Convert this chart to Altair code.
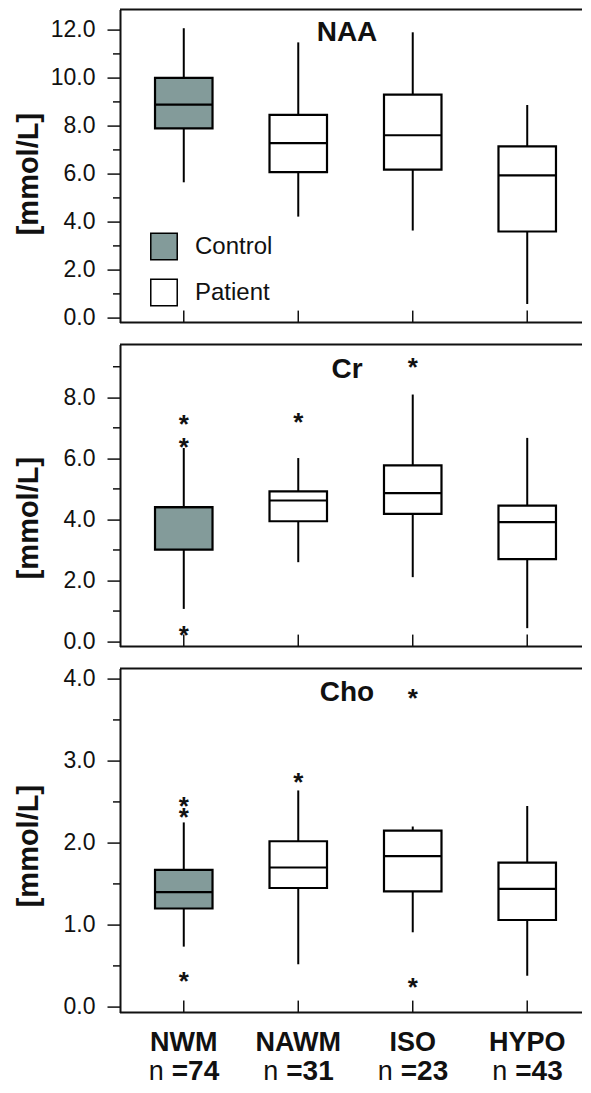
import altair as alt
import pandas as pd

categories = ["NWM", "NAWM", "ISO", "HYPO"]
groups = ["Control", "Patient", "Patient", "Patient"]
n_counts = ["=74", "=31", "=23", "=43"]
panel_titles = ["NAA", "Cr", "Cho"]
legend_labels = ["Control", "Patient"]
fill_colors = ["#839b9a", "#ffffff"]

# NAA
naa_low = [5.65, 4.22, 3.64, 0.58]
naa_q1 = [7.90, 6.07, 6.18, 3.60]
naa_med = [8.89, 7.28, 7.61, 5.94]
naa_q3 = [10.00, 8.46, 9.30, 7.15]
naa_high = [12.07, 11.48, 11.90, 8.87]
naa_out_cat = []
naa_out_val = []
naa_major = [0, 2, 4, 6, 8, 10, 12]
naa_minor = [1, 3, 5, 7, 9, 11]

# Cr
cr_low = [1.07, 2.60, 2.11, 0.44]
cr_q1 = [3.01, 3.94, 4.18, 2.70]
cr_med = [4.40, 4.62, 4.86, 3.91]
cr_q3 = [4.40, 4.92, 5.77, 4.45]
cr_high = [6.34, 6.01, 8.09, 6.67]
cr_out_cat = ["NWM", "NWM", "NWM", "NAWM", "ISO"]
cr_out_val = [7.24, 6.50, 0.36, 7.32, 9.12]
cr_major = [0, 2, 4, 6, 8]
cr_minor = [1, 3, 5, 7, 9]

# Cho
cho_low = [0.735, 0.52, 0.91, 0.38]
cho_q1 = [1.20, 1.45, 1.41, 1.06]
cho_med = [1.40, 1.70, 1.84, 1.44]
cho_q3 = [1.67, 2.02, 2.15, 1.76]
cho_high = [2.25, 2.64, 2.20, 2.45]
cho_out_cat = ["NWM", "NWM", "NWM", "NAWM", "ISO", "ISO"]
cho_out_val = [2.50, 2.37, 0.37, 2.79, 3.82, 0.29]
cho_major = [0, 1, 2, 3, 4]
cho_minor = [0.5, 1.5, 2.5, 3.5]

FONT = "Liberation Sans"
INK = "#111111"
W = 463        # visible plot width (frame is cut at the right edge)
XR = 471       # x range used for category positions


def panel(low, q1, med, q3, high, out_cat, out_val, major, minor, title,
          domain, height, title_y, head_y, show_legend, bottom):
    box_df = pd.DataFrame({"cat": categories, "group": groups, "low": low,
                           "q1": q1, "med": med, "q3": q3, "high": high})
    cat_df = pd.DataFrame({"cat": categories, "n": n_counts})
    minor_df = pd.DataFrame({"v": minor})
    one = pd.DataFrame({"t": [title]})

    xs = alt.Scale(type="point", domain=categories, padding=0.557, range=[0, XR])
    xax = alt.Axis(title=None, labels=False, ticks=False, domain=False, grid=False)
    x = alt.X("cat:N", scale=xs, axis=xax)
    ys = alt.Scale(domain=domain, nice=False, zero=False)
    yax = alt.Axis(title="[mmol/L]", values=major, format=".1f", grid=False,
                   tickSize=13, tickWidth=1.5, tickColor=INK,
                   labelFontSize=23, labelColor=INK, labelPadding=12,
                   labelFont=FONT, labelFlush=False, labelOverlap=False,
                   domainColor=INK, domainWidth=2,
                   titleFontSize=29, titleFontWeight="bold", titleColor=INK,
                   titleFont=FONT, titleAngle=270, titleBaseline="middle",
                   titleAlign="center", titleX=-92, titleY=title_y)

    def Y(f):
        return alt.Y(f, scale=ys, axis=yax)

    if show_legend:
        leg = alt.Legend(orient="none", legendX=30, legendY=223, title=None,
                         symbolType="square", symbolSize=700,
                         symbolStrokeColor="black", symbolStrokeWidth=1.5,
                         labelFontSize=24, labelFont=FONT, labelColor=INK,
                         labelOffset=17, rowPadding=12, padding=0)
    else:
        leg = None
    color = alt.Color("group:N", scale=alt.Scale(domain=legend_labels, range=fill_colors),
                      legend=leg)

    top_border = alt.Chart(one).mark_rule(color=INK, strokeWidth=2).encode(
        x=alt.value(0), x2=alt.value(W), y=alt.value(0))
    bottom_border = alt.Chart(one).mark_rule(color=INK, strokeWidth=2).encode(
        x=alt.value(0), x2=alt.value(W), y=alt.value(height))
    minor_ticks = alt.Chart(minor_df).mark_rule(color=INK, strokeWidth=1.5).encode(
        x=alt.value(-7), x2=alt.value(0), y=Y("v:Q"))
    inner_ticks = alt.Chart(cat_df).mark_rule(color=INK, strokeWidth=1.5).encode(
        x=x, y=alt.value(height - 12), y2=alt.value(height))
    whisk = alt.Chart(box_df).mark_rule(color="black", strokeWidth=2).encode(
        x=x, y=Y("low:Q"), y2="high:Q")
    box = alt.Chart(box_df).mark_bar(size=57.5, stroke="black", strokeWidth=2.2, opacity=1).encode(
        x=x, y=Y("q1:Q"), y2="q3:Q", color=color)
    medl = alt.Chart(box_df).mark_tick(size=57.5, thickness=2.2, color="black", opacity=1).encode(
        x=x, y=Y("med:Q"))
    head = alt.Chart(one).mark_text(fontSize=28, fontWeight="bold", font=FONT, color=INK,
                                    align="center", baseline="alphabetic").encode(
        x=alt.value(227), y=alt.value(head_y), text="t:N")
    layers = [top_border, bottom_border, minor_ticks, inner_ticks, whisk, box, medl, head]
    if len(out_cat) > 0:
        out_df = pd.DataFrame({"cat": out_cat, "val": out_val})
        stars = alt.Chart(out_df).mark_text(text="*", fontSize=26, fontWeight="bold", font=FONT,
                                            color=INK, align="center", baseline="alphabetic",
                                            dy=13).encode(x=x, y=Y("val:Q"))
        layers.append(stars)
    if bottom:
        names = alt.Chart(cat_df).mark_text(fontSize=27, fontWeight="bold", font=FONT, color=INK,
                                            align="center", baseline="alphabetic").encode(
            x=x, y=alt.value(height + 38), text="cat:N")
        nl = alt.Chart(cat_df).mark_text(fontSize=27, font=FONT, color=INK, align="right",
                                         baseline="alphabetic", dx=-20, text="n").encode(
            x=x, y=alt.value(height + 67))
        nv = alt.Chart(cat_df).mark_text(fontSize=28, fontWeight="bold", font=FONT, color=INK,
                                         align="left", baseline="alphabetic", dx=-12).encode(
            x=x, y=alt.value(height + 67), text="n:N")
        layers += [names, nl, nv]
    return alt.layer(*layers).properties(width=W, height=height)


top = panel(naa_low, naa_q1, naa_med, naa_q3, naa_high, naa_out_cat, naa_out_val,
            naa_major, naa_minor, panel_titles[0], [-0.196, 12.846], 313, 164, 31, True, False)
mid = panel(cr_low, cr_q1, cr_med, cr_q3, cr_high, cr_out_cat, cr_out_val,
            cr_major, cr_minor, panel_titles[1], [-0.164, 9.725], 302, 173, 33.5, False, False)
bot = panel(cho_low, cho_q1, cho_med, cho_q3, cho_high, cho_out_cat, cho_out_val,
            cho_major, cho_minor, panel_titles[2], [-0.0695, 4.126], 344, 177, 32, False, True)

chart = alt.vconcat(top, mid, bot, spacing=22, bounds="flush").resolve_scale(
    color="independent").resolve_legend(color="independent").properties(
    padding={"left": 5, "top": -0.4, "right": -10, "bottom": -6}
).configure(font=FONT).configure_view(stroke="transparent")

chart.save("out.html", embed_options={"renderer": "svg", "actions": False})
